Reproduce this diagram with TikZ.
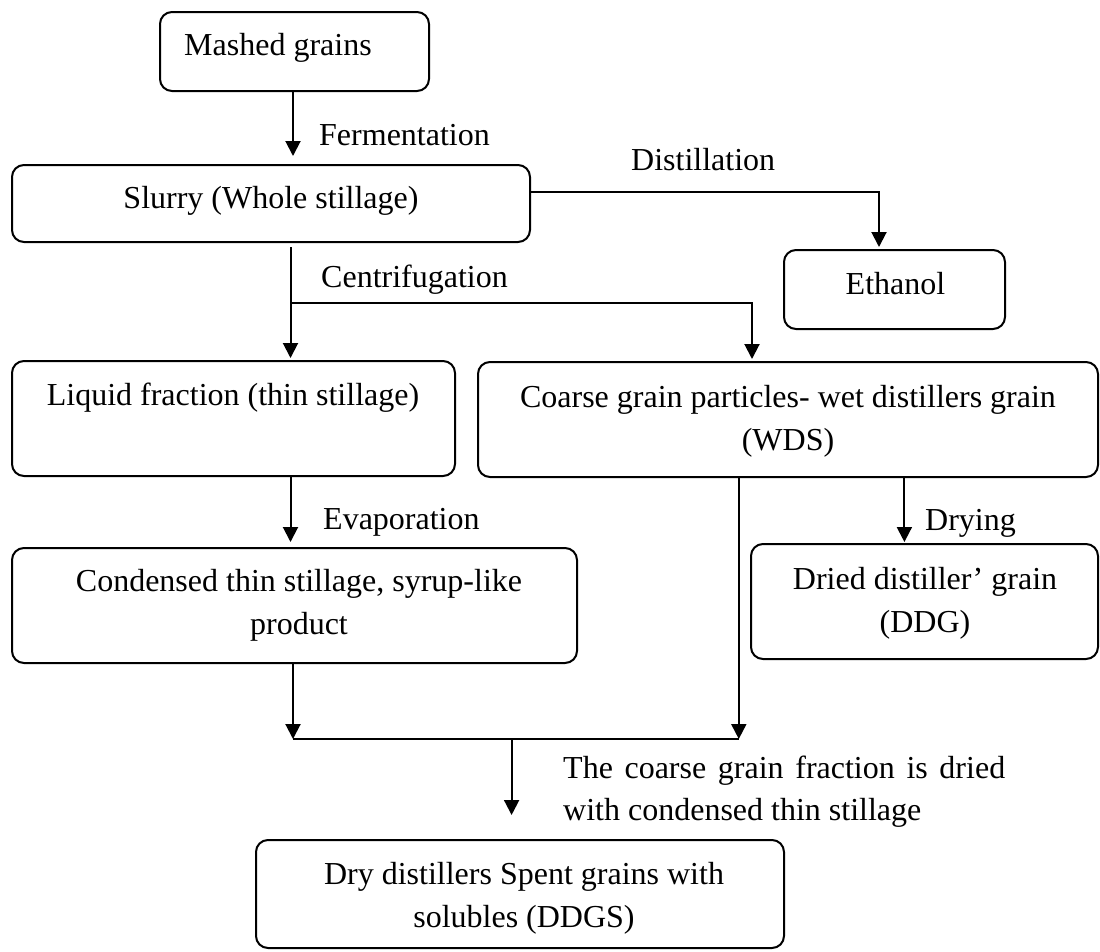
\documentclass[tikz,border=0pt]{standalone}
\usepackage{fontspec}
\setmainfont{Liberation Serif}
\usetikzlibrary{arrows.meta}
\begin{document}
\begin{tikzpicture}[x=1pt,y=-1pt,
  box/.style={draw, line width=2pt, rounded corners=12pt, inner sep=0pt},
  txt/.style={inner sep=0pt, align=center, font=\fontsize{32}{43}\selectfont},
  lbl/.style={inner sep=0pt, anchor=west, align=left, font=\fontsize{32}{42}\selectfont},
  arr/.style={line width=2pt, -{Triangle[width=15pt,length=15pt]}},
  ln/.style={line width=2pt}]
\useasboundingbox (0,0) rectangle (1100,951);

% boxes
\node[box, minimum width=269pt, minimum height=79pt] (mashed) at (294.5,51.5) {};
\node[box, minimum width=518pt, minimum height=77pt] (slurry) at (271,203.5) {};
\node[box, minimum width=221pt, minimum height=79pt] (ethanol) at (894.5,289.5) {};
\node[box, minimum width=443pt, minimum height=115pt] (liquid) at (233.5,418.5) {};
\node[box, minimum width=620pt, minimum height=115pt] (coarse) at (788,419.5) {};
\node[box, minimum width=565pt, minimum height=115pt] (condensed) at (294.5,605.5) {};
\node[box, minimum width=347pt, minimum height=115pt] (dried) at (924.5,601.5) {};
\node[box, minimum width=528pt, minimum height=108pt] (ddgs) at (520,894) {};

% box texts
\node[txt] (mashedT) at (278,48) {Mashed grains};
\node[txt] (slurryT) at (271,201) {Slurry (Whole stillage)};
\node[txt] (ethanolT) at (895.5,284) {Ethanol};
\node[txt] (liquidT) at (233,398) {Liquid fraction (thin stillage)};
\node[txt] (coarseT) at (788,421) {Coarse grain particles- wet distillers grain\\(WDS)};
\node[txt] (condensedT) at (299,605) {Condensed thin stillage, syrup-like\\product};
\node[txt] (driedT) at (925,603.5) {Dried distiller’ grain\\(DDG)};
\node[txt] (ddgsT) at (524,898) {Dry distillers Spent grains with\\solubles (DDGS)};

% connector labels
\node[lbl] (fermL) at (319,135) {Fermentation};
\node[lbl] (distL) at (631,160) {Distillation};
\node[lbl] (centL) at (321,280) {Centrifugation};
\node[lbl] (evapL) at (323,522) {Evaporation};
\node[lbl] (dryL) at (925,523) {Drying};
\node[lbl] (noteL) at (563,792) {\makebox[442pt][s]{The coarse grain fraction is dried}\\with condensed thin stillage};

% junction coordinates
\coordinate (fx) at (293,0);
\coordinate (dist) at (879,192);
\coordinate (cj) at (290.5,303);
\coordinate (cr) at (752,303);
\coordinate (dx) at (904.4,0);
\coordinate (ml) at (293,739);
\coordinate (mr) at (738.8,739);
\coordinate (mm) at (511.6,739);

% connectors
\draw[arr, shorten >=8pt] (mashed.south -| fx) -- (slurry.north -| fx);
\draw[arr, shorten >=2pt] (slurry.east |- dist) -- (dist) -- (ethanol.north -| dist);
\draw[arr, shorten <=4pt, shorten >=2pt] (slurry.south -| cj) -- (liquid.north -| cj);
\draw[arr, shorten >=2pt] (cj) -- (cr) -- (coarse.north -| cr);
\draw[arr, shorten >=5pt] (liquid.south -| cj) -- (condensed.north -| cj);
\draw[arr, shorten >=1pt] (coarse.south -| dx) -- (dried.north -| dx);
\draw[arr] (coarse.south -| mr) -- (mr);
\draw[arr] (condensed.south -| ml) -- (ml);
\draw[ln] (ml) -- (mr);
\draw[arr, shorten >=24pt] (mm) -- (ddgs.north -| mm);
\end{tikzpicture}
\end{document}
